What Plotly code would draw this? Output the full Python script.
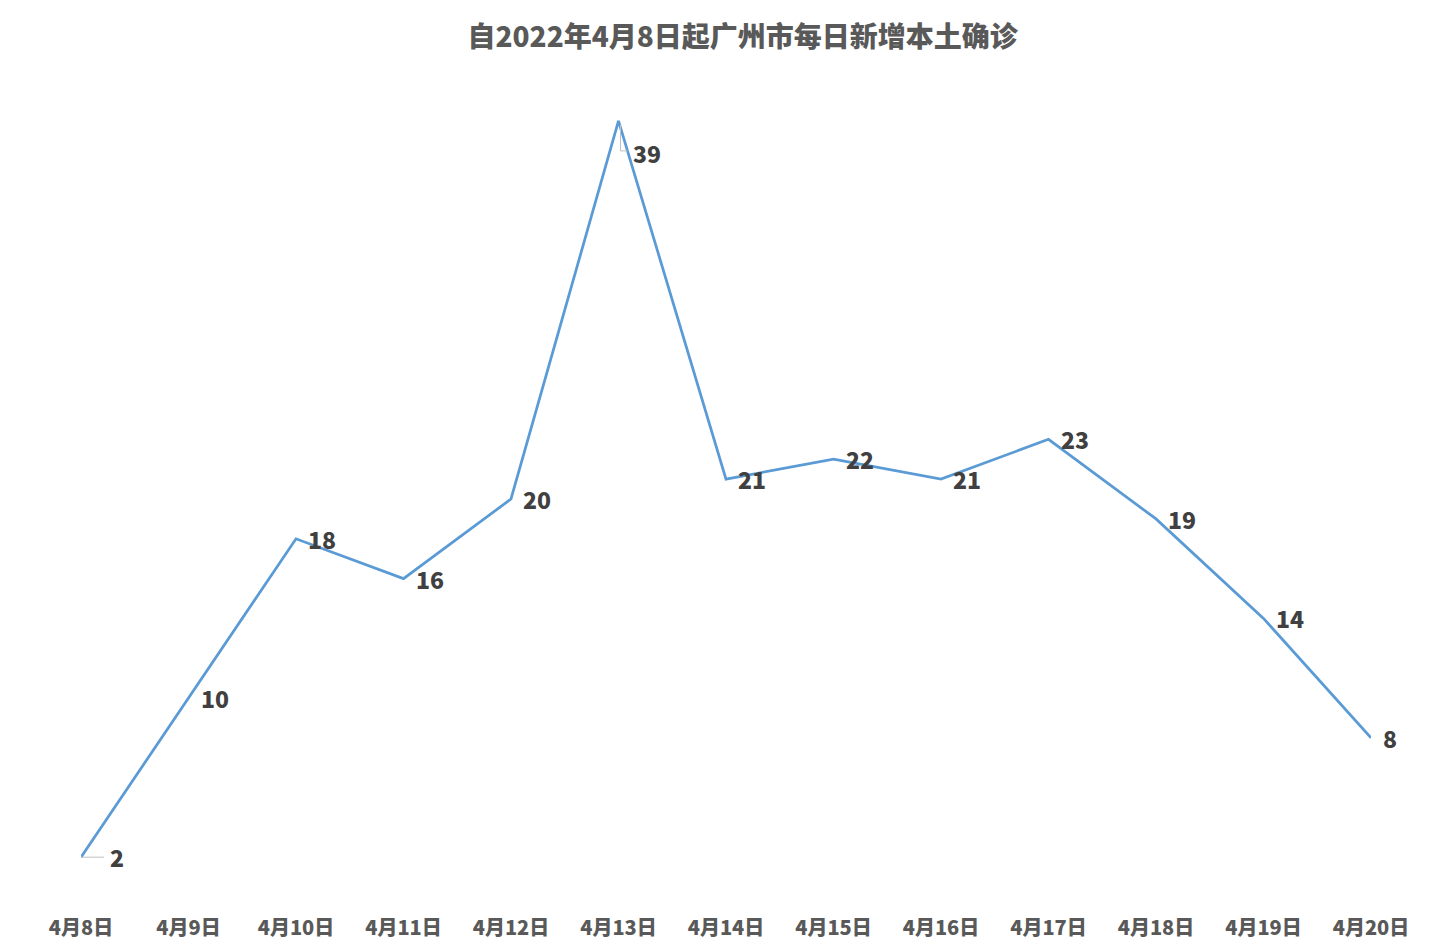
import plotly.graph_objects as go

TITLE = "自2022年4月8日起广州市每日新增本土确诊"
DAYS = ["4月8日", "4月9日", "4月10日", "4月11日", "4月12日", "4月13日", "4月14日",
        "4月15日", "4月16日", "4月17日", "4月18日", "4月19日", "4月20日"]
CASES = [2, 10, 18, 16, 20, 39, 21, 22, 21, 23, 19, 14, 8]

FONT = "Noto Sans CJK SC"
LINE_COLOR = "#5B9BD5"


def main():
    fig = go.Figure()
    fig.add_trace(go.Scatter(
        x=list(range(len(DAYS))), y=CASES, mode="lines",
        line=dict(color=LINE_COLOR, width=2.75),
        hovertemplate="%{text}: %{y}<extra></extra>", text=DAYS,
    ))

    # data labels, right of each point (a couple are pushed off with leader lines)
    offsets = {0: (27, 0), 5: (12, -32)}
    for i, v in enumerate(CASES):
        dx, dy = offsets.get(i, (10, 0))
        fig.add_annotation(
            x=i, y=v, text=str(v), showarrow=False,
            xanchor="left", yanchor="middle", xshift=dx, yshift=dy,
            font=dict(family=FONT, size=23, color="#404040", weight=900),
        )

    # leader lines
    leader = dict(type="path", xref="x", yref="y", xsizemode="pixel", ysizemode="pixel",
                  line=dict(color="#BFBFBF", width=1))
    fig.add_shape(xanchor=0, yanchor=CASES[0], path="M 0 0 L 23 0", **leader)
    fig.add_shape(xanchor=5, yanchor=CASES[5], path="M 2 -4 L 2 -30 L 9 -30", **leader)

    fig.update_layout(
        width=1449, height=952,
        margin=dict(l=73, r=86, t=93, b=63),
        plot_bgcolor="white", paper_bgcolor="white",
        showlegend=False,
        title=dict(text=TITLE, x=0.507, xanchor="center", y=0.9695, yanchor="middle",
                   font=dict(family=FONT, size=28, color="#595959", weight=900)),
        xaxis=dict(
            tickmode="array", tickvals=list(range(len(DAYS))),
            ticktext=DAYS,
            range=[0, len(DAYS) - 1], showgrid=False, zeroline=False, showline=False,
            ticks="", ticklabelstandoff=17,
            tickfont=dict(family=FONT, size=20, color="#595959", weight=900),
        ),
        yaxis=dict(range=[0, 40], showgrid=False, zeroline=False, showline=False,
                   showticklabels=False, ticks=""),
    )
    fig.write_html("out.html")


if __name__ == "__main__":
    main()
